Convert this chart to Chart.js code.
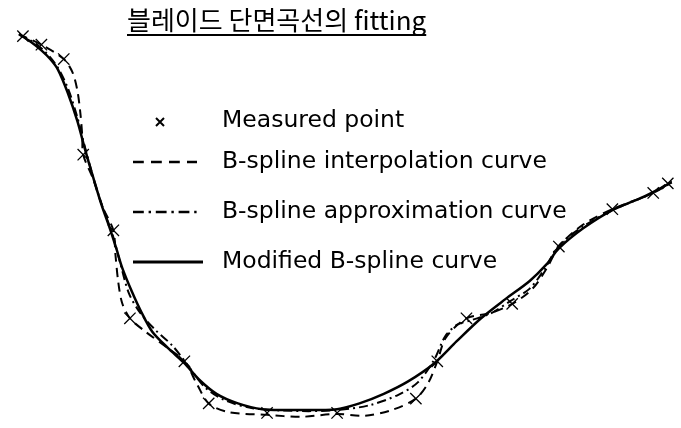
<!DOCTYPE html>
<html>
<head>
<meta charset="utf-8">
<script src="https://cdn.jsdelivr.net/npm/chart.js@4"></script>
<style>
  html, body { margin: 0; padding: 0; background: #fff; }
  #wrap { width: 681px; height: 428px; position: relative; }
</style>
</head>
<body>
<div id="wrap"><canvas id="c" width="681" height="428"></canvas></div>
<script>
const titleText = '블레이드 단면곡선의 fitting';
const legendLabels = [
  'Measured point',
  'B-spline interpolation curve',
  'B-spline approximation curve',
  'Modified B-spline curve'
];

// Blade cross-section profile: x along the section, y as depth (grows downward)
const measuredX = [14, 33, 56, 76, 107, 124, 180, 205, 265, 337, 418, 440, 470, 517, 565, 620, 662, 677];
const measuredY = [28, 37, 52, 152, 231, 323, 368, 412, 422, 422, 407, 368, 323, 308, 248, 209, 192, 182];

const interpX = [10, 14, 33, 56, 65, 70, 73, 75, 76, 86, 96, 107, 109, 112, 116, 124, 140, 160, 180, 193, 205, 225, 265, 300, 337, 365, 393, 418, 431, 440, 449, 470, 493, 517, 538, 553, 565, 590, 620, 662, 677, 681];
const interpY = [26, 28, 37, 52, 66, 85, 108, 132, 152, 177, 207, 231, 255, 285, 307, 323, 337, 352, 368, 392, 412, 421, 424, 426, 423, 425, 419, 407, 390, 368, 343, 323, 318, 308, 292, 270, 248, 225, 209, 192, 182, 180];

const approxX = [10, 30, 48, 60, 70, 78, 87, 96, 106, 114, 123, 135, 150, 168, 185, 200, 220, 250, 300, 337, 370, 400, 420, 437, 448, 460, 475, 495, 515, 535, 550, 565, 590, 620, 660, 681];
const approxY = [26, 38, 58, 82, 113, 145, 178, 207, 235, 265, 297, 318, 335, 352, 374, 394, 408, 417, 420, 419, 414, 403, 390, 366, 342, 330, 325, 318, 305, 292, 272, 247, 227, 210, 193, 181];

const modifiedX = [10, 22, 33, 42, 50, 60, 70, 78, 86, 95, 103, 110, 116, 126, 136, 147, 163, 180, 195, 213, 235, 260, 300, 337, 360, 385, 410, 437, 460, 485, 510, 535, 552, 565, 590, 620, 650, 681];
const modifiedY = [26, 34, 43, 52, 63, 87, 117, 147, 175, 205, 228, 250, 270, 295, 317, 337, 354, 370, 387, 402, 412, 418, 419, 418, 412, 402, 389, 370, 347, 323, 303, 284, 267, 250, 229, 210, 197, 181];

const toPts = (xs, ys) => xs.map((x, i) => ({ x: x, y: ys[i] }));

const curveStyles = [
  { dash: [9, 6], width: 2 },
  { dash: [9, 4, 2, 4], width: 2 },
  { dash: [], width: 2.5 }
];

// Title (underlined) and legend drawn on the canvas
const annotations = {
  id: 'annotations',
  afterDraw(chart) {
    const ctx = chart.ctx;
    ctx.save();
    ctx.fillStyle = '#000';
    ctx.strokeStyle = '#000';

    ctx.font = '26px "Noto Sans CJK KR"';
    ctx.textBaseline = 'alphabetic';
    ctx.textAlign = 'left';
    const tx = 127, ty = 30;
    ctx.fillText(titleText, tx, ty);
    const tw = ctx.measureText(titleText).width;
    ctx.lineWidth = 2;
    ctx.beginPath();
    ctx.moveTo(tx, 35);
    ctx.lineTo(tx + tw, 35);
    ctx.stroke();

    const rowsY = [121, 162, 212, 262];
    ctx.font = '23.5px "DejaVu Sans"';
    ctx.textBaseline = 'middle';
    legendLabels.forEach((lab, i) => {
      ctx.fillText(lab, 222, rowsY[i]);
    });

    // measured-point marker
    ctx.lineWidth = 2;
    ctx.setLineDash([]);
    const mx = 160, my = rowsY[0] + 1, r = 4;
    ctx.beginPath();
    ctx.moveTo(mx - r, my - r); ctx.lineTo(mx + r, my + r);
    ctx.moveTo(mx + r, my - r); ctx.lineTo(mx - r, my + r);
    ctx.stroke();

    curveStyles.forEach((s, i) => {
      ctx.lineWidth = s.width + 0.5;
      ctx.setLineDash(s.dash.map(d => d * 1.2));
      ctx.beginPath();
      ctx.moveTo(133, rowsY[i + 1]);
      ctx.lineTo(i === 2 ? 203 : 197, rowsY[i + 1]);
      ctx.stroke();
    });
    ctx.restore();
  }
};

new Chart(document.getElementById('c'), {
  type: 'scatter',
  data: {
    datasets: [
      {
        label: legendLabels[0],
        data: toPts(measuredX, measuredY),
        pointStyle: 'crossRot',
        pointRadius: 8,
        pointBorderWidth: 1.3,
        borderColor: '#000',
        backgroundColor: '#000',
        showLine: false,
        clip: false
      },
      {
        label: legendLabels[1],
        data: toPts(interpX, interpY),
        showLine: true,
        tension: 0.3,
        pointRadius: 0,
        borderColor: '#000',
        borderWidth: curveStyles[0].width,
        borderDash: curveStyles[0].dash,
        clip: false
      },
      {
        label: legendLabels[2],
        data: toPts(approxX, approxY),
        showLine: true,
        tension: 0.3,
        pointRadius: 0,
        borderColor: '#000',
        borderWidth: curveStyles[1].width,
        borderDash: curveStyles[1].dash,
        clip: false
      },
      {
        label: legendLabels[3],
        data: toPts(modifiedX, modifiedY),
        showLine: true,
        tension: 0.3,
        pointRadius: 0,
        borderColor: '#000',
        borderWidth: curveStyles[2].width,
        clip: false
      }
    ]
  },
  options: {
    responsive: false,
    animation: false,
    layout: { padding: 0 },
    plugins: {
      legend: { display: false },
      tooltip: { enabled: false },
      title: { display: false }
    },
    scales: {
      x: { type: 'linear', min: 0, max: 681, display: false },
      y: { type: 'linear', min: 0, max: 428, reverse: true, display: false }
    }
  },
  plugins: [annotations]
});
</script>
</body>
</html>
